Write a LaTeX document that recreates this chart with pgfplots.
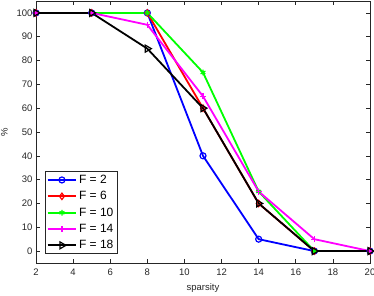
\documentclass[border=0pt]{standalone}
\usepackage{fontspec}
\setmainfont{Liberation Sans}
\usepackage{pgfplots}
\pgfplotsset{compat=1.18}
\definecolor{axgray}{rgb}{0.15,0.15,0.15}
\definecolor{mblue}{rgb}{0,0,1}
\definecolor{mred}{rgb}{1,0,0}
\definecolor{mgreen}{rgb}{0,1,0}
\definecolor{mmag}{rgb}{1,0,1}
\definecolor{mblack}{rgb}{0,0,0}
\begin{document}
\begin{tikzpicture}
\begin{axis}[
  scale only axis, width=334pt, height=262pt,
  xmin=2, xmax=20, ymin=-5, ymax=105,
  xtick={2,4,...,20}, ytick={0,10,...,100},
  tick align=inside, tick pos=both,
  major tick length=4pt,
  axis line style={axgray, line width=0.6pt},
  every tick/.style={axgray, line width=0.6pt},
  /pgf/number format/assume math mode=true,
  tick label style={font=\fontsize{9.5}{11}\selectfont, text=axgray},
  xticklabel style={yshift=-2pt},
  label style={font=\fontsize{9.5}{11}\selectfont, text=axgray},
  xlabel={sparsity}, ylabel={\%},
  xlabel style={yshift=-1pt},
  ylabel style={yshift=2pt},
  legend style={at={(0.027,0.034)}, anchor=south west, font=\fontsize{12}{13}\selectfont, draw=axgray, line width=0.6pt, row sep=2.5pt, inner sep=1.5pt},
  legend image code/.code={\draw[mark repeat=2,mark phase=2] plot coordinates {(0cm,0cm) (0.5cm,0cm) (1cm,0cm)};},
  legend cell align=left,
]
\addplot[color=mblue, line width=1.8pt, mark=o, mark size=3pt, mark options={solid, line width=1.2pt, draw=mblue}] coordinates {(2,100) (5,100) (8,100) (11,40) (14,5) (17,0) (20,0)};
\addlegendentry{F = 2}
\addplot[color=mred, line width=1.8pt, mark=diamond, mark size=3.2pt, mark options={solid, line width=1.2pt, draw=mred}] coordinates {(2,100) (5,100) (8,100) (11,60) (14,20) (17,0) (20,0)};
\addlegendentry{F = 6}
\addplot[color=mgreen, line width=1.8pt, mark=asterisk, mark size=2.8pt, mark options={solid, line width=1.2pt, draw=mgreen}] coordinates {(2,100) (5,100) (8,100) (11,75) (14,25) (17,0) (20,0)};
\addlegendentry{F = 10}
\addplot[color=mmag, line width=1.8pt, mark=+, mark size=3pt, mark options={solid, line width=1.2pt, draw=mmag}] coordinates {(2,100) (5,100) (8,95) (11,65) (14,25) (17,5) (20,0)};
\addlegendentry{F = 14}
\addplot[color=mblack, line width=1.8pt, mark=triangle, mark size=4pt, mark options={solid, line width=1.2pt, draw=mblack, rotate=-90}] coordinates {(2,100) (5,100) (8,85) (11,60) (14,20) (17,0) (20,0)};
\addlegendentry{F = 18}
\end{axis}
\pgfresetboundingbox
\path (-36pt,-32pt) rectangle (338pt,263pt);
\end{tikzpicture}
\end{document}
